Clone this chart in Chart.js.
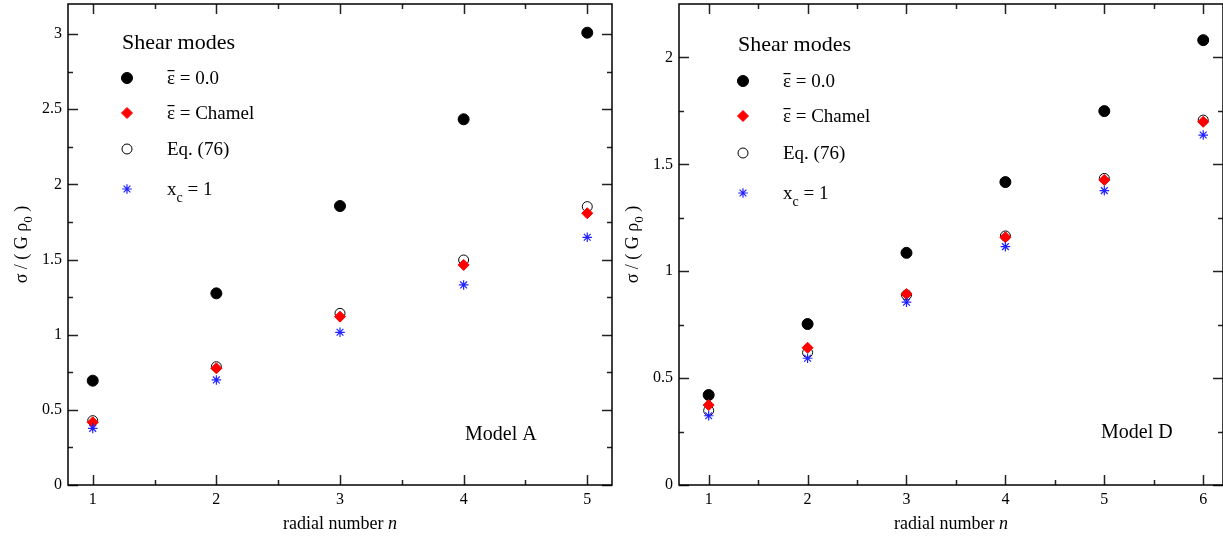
<!DOCTYPE html>
<html>
<head>
<meta charset="utf-8">
<title>Shear modes</title>
<script src="https://cdn.jsdelivr.net/npm/chart.js@4.4.1/dist/chart.umd.min.js"></script>
<style>
    html, body { margin: 0; padding: 0; background: #fff; }
    #wrap { position: relative; width: 1223px; height: 536px; overflow: hidden; }
    #chartA { position: absolute; left: 0; top: 0; }
    #chartD { position: absolute; left: 616px; top: 0; }
</style>
</head>
<body>
<div id="wrap">
    <canvas id="chartA" width="616" height="536"></canvas>
    <canvas id="chartD" width="607" height="536"></canvas>
</div>
<script>
const FONT = '"Liberation Serif", "Times New Roman", serif';

// Model A (left panel)
const radialA = [1, 2, 3, 4, 5];
const eps0A   = [0.694, 1.275, 1.856, 2.433, 3.009];
const chamelA = [0.417, 0.776, 1.120, 1.464, 1.808];
const eq76A   = [0.428, 0.787, 1.142, 1.497, 1.852];
const xc1A    = [0.377, 0.699, 1.016, 1.331, 1.648];
const xTicksA = [1, 2, 3, 4, 5];
const yTicksA = [0, 0.5, 1, 1.5, 2, 2.5, 3];

// Model D (right panel)
const radialD = [1, 2, 3, 4, 5, 6];
const eps0D   = [0.421, 0.753, 1.086, 1.417, 1.749, 2.081];
const chamelD = [0.374, 0.642, 0.893, 1.159, 1.427, 1.699];
const eq76D   = [0.348, 0.619, 0.889, 1.165, 1.434, 1.707];
const xc1D    = [0.324, 0.593, 0.855, 1.115, 1.377, 1.637];
const xTicksD = [1, 2, 3, 4, 5, 6];
const yTicksD = [0, 0.5, 1, 1.5, 2];

// marker styles, same order as the legend
const seriesStyles = [
    { bar: 'ε', text: ' = 0.0', pointStyle: 'circle', radius: 5.5, fill: '#000', stroke: '#000', width: 1, order: 4 },
    { bar: 'ε', text: ' = Chamel', pointStyle: 'rectRot', radius: 5.5, fill: '#ff0000', stroke: '#ff0000', width: 1, order: 2 },
    { text: 'Eq. (76)', pointStyle: 'circle', radius: 5, fill: 'rgba(0,0,0,0)', stroke: '#000', width: 1, order: 3 },
    { text: 'x', sub: 'c', tail: ' = 1', pointStyle: 'star', radius: 4.8, fill: '#2222ff', stroke: '#2222ff', width: 1.2, order: 1 }
];

function toPoints(xs, ys) {
    return xs.map((x, i) => ({ x: x, y: ys[i] }));
}

function makeDatasets(xs, seriesList) {
    return seriesList.map((ys, i) => {
        const s = seriesStyles[i];
        return {
            label: s.text,
            data: toPoints(xs, ys),
            pointStyle: s.pointStyle,
            pointRadius: s.radius,
            pointBackgroundColor: s.fill,
            pointBorderColor: s.stroke,
            pointBorderWidth: s.width,
            showLine: false,
            order: s.order
        };
    });
}

// small marker drawer for the legend (same shapes as Chart.js)
function drawMarker(ctx, s, x, y) {
    const r = s.radius;
    ctx.save();
    ctx.fillStyle = s.fill;
    ctx.strokeStyle = s.stroke;
    ctx.lineWidth = s.width;
    ctx.beginPath();
    if (s.pointStyle === 'circle') {
        ctx.arc(x, y, r, 0, Math.PI * 2);
        ctx.fill();
        ctx.stroke();
    } else if (s.pointStyle === 'rectRot') {
        ctx.moveTo(x, y - r);
        ctx.lineTo(x + r, y);
        ctx.lineTo(x, y + r);
        ctx.lineTo(x - r, y);
        ctx.closePath();
        ctx.fill();
        ctx.stroke();
    } else if (s.pointStyle === 'star') {
        const d = r * Math.SQRT1_2;
        ctx.moveTo(x - r, y); ctx.lineTo(x + r, y);
        ctx.moveTo(x, y - r); ctx.lineTo(x, y + r);
        ctx.moveTo(x - d, y - d); ctx.lineTo(x + d, y + d);
        ctx.moveTo(x - d, y + d); ctx.lineTo(x + d, y - d);
        ctx.stroke();
    }
    ctx.restore();
}

function minorValues(majors, min, max) {
    const step = majors[1] - majors[0];
    const out = [];
    for (let v = majors[0] - step / 2; v < max + step; v += step) {
        if (v > min && v < max) out.push(v);
    }
    return out;
}

// frame, inward ticks on all four sides
const framePlugin = {
    id: 'frame',
    afterDraw(chart) {
        const { ctx, chartArea: ca, scales } = chart;
        const xs = scales.x, ys = scales.y;
        ctx.save();
        ctx.strokeStyle = '#222';
        ctx.lineWidth = 1.5;
        ctx.beginPath();
        const tickX = (v, len) => {
            const px = Math.round(xs.getPixelForValue(v)) + 0.5;
            ctx.moveTo(px, ca.bottom); ctx.lineTo(px, ca.bottom - len);
            ctx.moveTo(px, ca.top); ctx.lineTo(px, ca.top + len);
        };
        const tickY = (v, len) => {
            const py = Math.round(ys.getPixelForValue(v)) + 0.5;
            ctx.moveTo(ca.left, py); ctx.lineTo(ca.left + len, py);
            ctx.moveTo(ca.right, py); ctx.lineTo(ca.right - len, py);
        };
        const xMaj = xs.ticks.map(t => t.value);
        const yMaj = ys.ticks.map(t => t.value);
        xMaj.forEach(v => tickX(v, 10));
        yMaj.forEach(v => tickY(v, 10));
        minorValues(xMaj, xs.min, xs.max).forEach(v => tickX(v, 5));
        minorValues(yMaj, ys.min, ys.max).forEach(v => tickY(v, 5));
        ctx.stroke();
        ctx.strokeStyle = '#000';
        ctx.strokeRect(ca.left, ca.top, ca.right - ca.left, ca.bottom - ca.top);
        ctx.restore();
    }
};

// legend, panel label and axis titles
const textPlugin = {
    id: 'panelText',
    afterDraw(chart, args, opts) {
        const { ctx, chartArea: ca } = chart;
        ctx.save();
        ctx.fillStyle = '#000';
        ctx.textBaseline = 'alphabetic';
        ctx.textAlign = 'left';

        ctx.font = `22px ${FONT}`;
        ctx.fillText('Shear modes', ca.left + opts.titleX, ca.top + opts.titleY);

        seriesStyles.forEach((s, i) => {
            const y = ca.top + opts.rows[i];
            drawMarker(ctx, s, ca.left + opts.markerX, y);
            let tx = ca.left + opts.textX;
            const base = y + 6;
            ctx.font = `19px ${FONT}`;
            if (s.bar) {
                const w = ctx.measureText(s.bar).width;
                ctx.fillText(s.bar, tx, base);
                ctx.fillRect(tx + 0.5, base - 14, w - 1, 1.2);
                tx += w;
            }
            ctx.fillText(s.text, tx, base);
            if (s.sub) {
                tx += ctx.measureText(s.text).width;
                ctx.font = `14px ${FONT}`;
                ctx.fillText(s.sub, tx, base + 7);
                tx += ctx.measureText(s.sub).width;
                ctx.font = `19px ${FONT}`;
                ctx.fillText(s.tail, tx, base);
            }
        });

        ctx.font = `20px ${FONT}`;
        ctx.fillText(opts.model, ca.left + opts.modelX, ca.bottom - opts.modelY);

        // x title with italic n
        ctx.font = `18px ${FONT}`;
        const main = 'radial number ';
        const wMain = ctx.measureText(main).width;
        ctx.font = `italic 18px ${FONT}`;
        const wN = ctx.measureText('n').width;
        const x0 = (ca.left + ca.right) / 2 - (wMain + wN) / 2;
        ctx.font = `18px ${FONT}`;
        ctx.fillText(main, x0, 529);
        ctx.font = `italic 18px ${FONT}`;
        ctx.fillText('n', x0 + wMain, 529);

        // y title, rotated
        ctx.translate(opts.yTitleX, (ca.top + ca.bottom) / 2);
        ctx.rotate(-Math.PI / 2);
        ctx.font = `18px ${FONT}`;
        const a = 'σ / ( G ρ', b = '0', c = ' )';
        const wa = ctx.measureText(a).width;
        const wc = ctx.measureText(c).width;
        ctx.font = `13px ${FONT}`;
        const wb = ctx.measureText(b).width;
        let ty = -(wa + wb + wc) / 2;
        ctx.font = `18px ${FONT}`;
        ctx.fillText(a, ty, 0);
        ctx.font = `13px ${FONT}`;
        ctx.fillText(b, ty + wa, 5);
        ctx.font = `18px ${FONT}`;
        ctx.fillText(c, ty + wa + wb, 0);
        ctx.restore();
    }
};

function makePanel(canvasId, xs, seriesList, xTicks, yTicks, ranges, layout, textOpts) {
    const ctx = document.getElementById(canvasId).getContext('2d');
    return new Chart(ctx, {
        type: 'scatter',
        data: { datasets: makeDatasets(xs, seriesList) },
        options: {
            responsive: false,
            animation: false,
            layout: {
                autoPadding: false,
                padding: { top: 4, right: layout.right, left: 0, bottom: 0 }
            },
            plugins: {
                legend: { display: false },
                tooltip: { enabled: false },
                panelText: textOpts
            },
            scales: {
                x: {
                    type: 'linear',
                    min: ranges.xMin, max: ranges.xMax,
                    afterBuildTicks: scale => { scale.ticks = xTicks.map(v => ({ value: v })); },
                    afterFit: scale => {
                        scale.height = 51;
                        scale.paddingLeft = 0;
                        scale.paddingRight = 0;
                    },
                    grid: { display: false, drawTicks: false },
                    border: { display: false },
                    ticks: { padding: 5, color: '#000', font: { family: FONT, size: 16 },
                             callback: v => String(v) }
                },
                y: {
                    type: 'linear',
                    min: ranges.yMin, max: ranges.yMax,
                    afterBuildTicks: scale => { scale.ticks = yTicks.map(v => ({ value: v })); },
                    afterFit: scale => {
                        scale.width = layout.yWidth;
                        scale.paddingTop = 0;
                        scale.paddingBottom = 0;
                    },
                    grid: { display: false, drawTicks: false },
                    border: { display: false },
                    ticks: { padding: 6, color: '#000', font: { family: FONT, size: 16 },
                             callback: v => String(v) }
                }
            }
        },
        plugins: [framePlugin, textPlugin]
    });
}

document.addEventListener('DOMContentLoaded', function() {
    makePanel('chartA', radialA, [eps0A, chamelA, eq76A, xc1A], xTicksA, yTicksA,
        { xMin: 0.8, xMax: 5.2, yMin: 0, yMax: 3.2 },
        { right: 4, yWidth: 68 },
        { titleX: 54, titleY: 45, markerX: 59, textX: 99, rows: [74, 109, 145, 185],
          model: 'Model A', modelX: 397, modelY: 45, yTitleX: 27 });

    makePanel('chartD', radialD, [eps0D, chamelD, eq76D, xc1D], xTicksD, yTicksD,
        { xMin: 0.7, xMax: 6.2, yMin: 0, yMax: 2.25 },
        { right: 0, yWidth: 63 },
        { titleX: 59, titleY: 47, markerX: 64, textX: 104, rows: [77, 112, 149, 189],
          model: 'Model D', modelX: 422, modelY: 47, yTitleX: 22 });
});
</script>
</body>
</html>
